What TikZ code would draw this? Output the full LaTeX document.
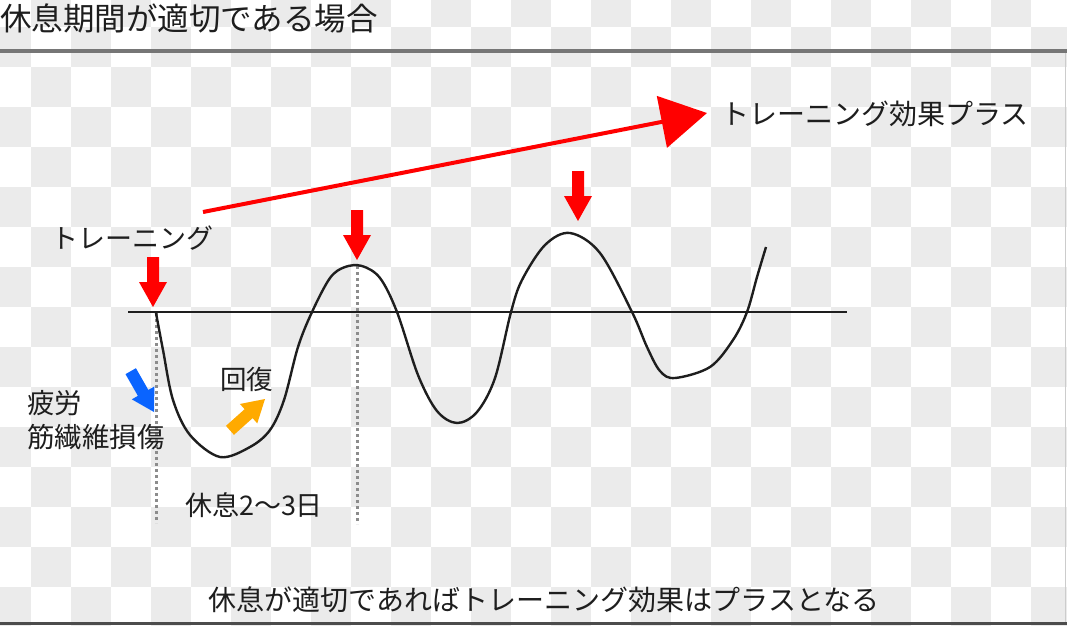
\documentclass[tikz,border=0pt]{standalone}
\usepackage{fontspec}
\setmainfont{Noto Sans CJK JP}
\usetikzlibrary{arrows.meta}
\definecolor{chk}{RGB}{235,235,235}
\definecolor{arrred}{RGB}{255,0,0}
\definecolor{arrblue}{RGB}{10,100,255}
\definecolor{arrorange}{RGB}{255,170,0}
\definecolor{ink}{RGB}{30,30,30}
\definecolor{rule}{RGB}{118,118,118}
\definecolor{dotgray}{RGB}{140,140,140}
\begin{document}
\begin{tikzpicture}[x=1pt,y=-1pt,
  lbl/.style={inner sep=0pt, text=ink, font=\fontsize{27.5}{30}\selectfont},
  curveline/.style={draw=ink, line width=2.4pt, line join=round},
  baseline/.style={draw=ink, line width=1.8pt},
  dotline/.style={draw=dotgray, line width=3pt, dash pattern=on 3pt off 3pt},
  vblock/.pic={\fill (0,0) -- (-25,-14) -- (-25,-6) -- (-50,-6) -- (-50,6) -- (-25,6) -- (-25,14) -- cycle;},
  sblock/.pic={\fill (0,0) -- (-22,-13) -- (-22,-6) -- (-47,-6) -- (-47,6) -- (-22,6) -- (-22,13) -- cycle;}
]
\useasboundingbox (0,0) rectangle (1067,625);
% checkered background
\begin{scope}
  \clip (0,0) rectangle (1067,625);
  \fill[white] (0,0) rectangle (1067,625);
  \foreach \i in {0,...,27}{
    \foreach \j in {0,...,16}{
      \pgfmathtruncatemacro\s{mod(\i+\j,2)}
      \ifnum\s=1 \fill[chk] ({-9+40*\i},{-13+40*\j}) rectangle ++(40,40); \fi
    }
  }
\end{scope}
% frame rules
\draw[rule, line width=3.5pt] (0,51) -- (1067,51);
\draw[black!70, line width=3pt] (0,623.5) -- (1067,623.5);
\draw[black!20, line width=1pt] (1065.5,53) -- (1065.5,622);

% title
\node[lbl, anchor=west, font=\fontsize{31.5}{34}\selectfont] (title) at (0,18) {休息期間が適切である場合};

% baseline
\coordinate (b0) at (128,312);
\coordinate (b1) at (847,312);
\draw[baseline] (b0) -- (b1);

% dotted guides
\coordinate (d1t) at (156,313);
\coordinate (d1b) at (156,523);
\coordinate (d2t) at (357,266);
\coordinate (d2b) at (357,524);
\draw[dotline] (d1t) -- (d1b);
\draw[dotline] (d2t) -- (d2b);

% curve
\draw[curveline] plot[smooth, tension=0.55] coordinates {
 (156,313) (163,350) (173,400) (190,435) (220,457) (250,447) (270,430)
 (284,400) (298,347) (312,312) (330,278) (345,267) (362,266) (380,278) (397,312)
 (418,375) (437,411) (457,423) (477,412) (495,378) (511,312) (522,280) (545,245) (570,233)
 (600,253) (632,312) (647,347) (660,371) (675,378) (710,367) (733,340)
 (747,312) (757,277) (766,247)};

% big red trend arrow
\coordinate (gstart) at (203,212);
\coordinate (gtip) at (707,113);
\draw[arrred, line width=4pt, -{Triangle[length=46pt,width=52pt]}] (gstart) -- (gtip);
\node[lbl, anchor=west, font=\fontsize{28}{30}\selectfont] (effect) at (721,114) {トレーニング効果プラス};

% red training arrows
\pic[arrred, rotate=-90] at (153,307) {vblock};
\pic[arrred, rotate=-90] at (357,260) {vblock};
\pic[arrred, rotate=-90] at (578,221) {vblock};

% blue and orange arrows
\pic[arrblue, rotate=-60.3] at (154,412) {sblock};
\pic[arrorange, rotate=41.8] at (265,399) {sblock};

% labels
\node[lbl, font=\fontsize{27}{30}\selectfont] (train) at (132.5,238) {トレーニング};
\node[lbl, font=\fontsize{26.5}{30}\selectfont] (recov) at (246.5,379) {回復};
\node[lbl, anchor=west] (fatigue) at (27,403) {疲労};
\node[lbl, anchor=west] (damage) at (27,437) {筋繊維損傷};
\node[lbl, font=\fontsize{27}{30}\selectfont] (rest) at (254,505) {休息2〜3日};
\node[lbl, font=\fontsize{28}{30}\selectfont] (summary) at (544,600) {休息が適切であればトレーニング効果はプラスとなる};
\end{tikzpicture}
\end{document}
